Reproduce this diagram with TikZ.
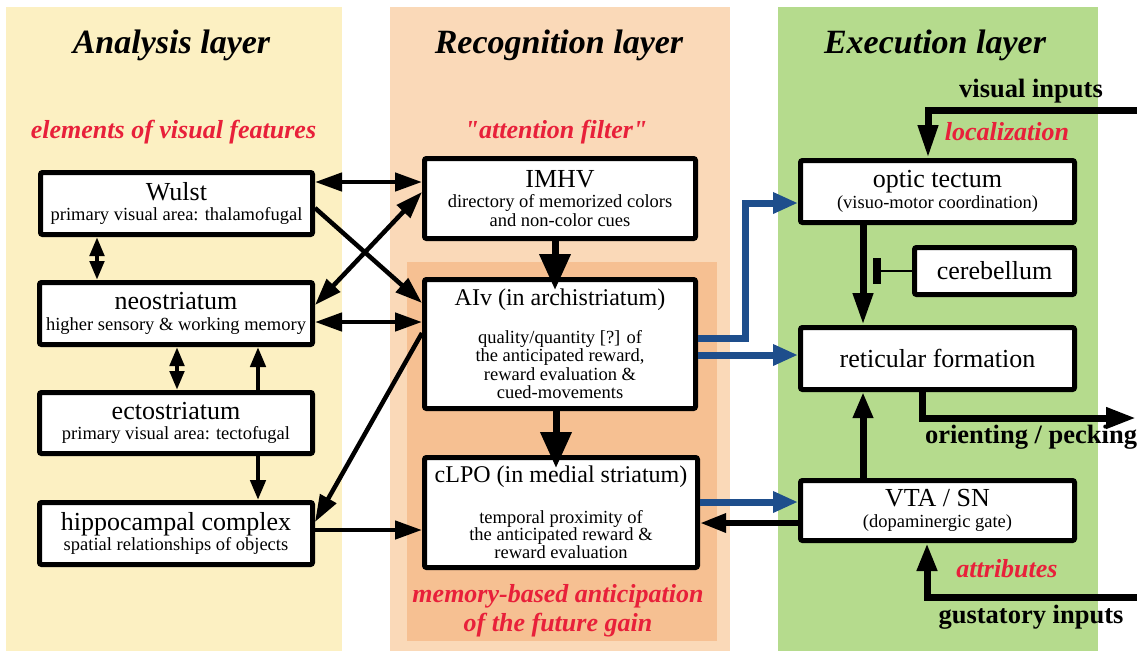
\documentclass[tikz,border=0pt]{standalone}
\usepackage{fontspec}
\setmainfont{Liberation Serif}
\usetikzlibrary{arrows.meta,calc}
\definecolor{ylw}{RGB}{252,240,194}
\definecolor{org}{RGB}{250,217,184}
\definecolor{orgdk}{RGB}{246,192,146}
\definecolor{grn}{RGB}{181,219,141}
\definecolor{redtxt}{RGB}{232,32,58}
\definecolor{bluearr}{RGB}{30,78,140}
\newcommand\bigt{\fontsize{26}{29}\selectfont}
\newcommand\midt{\fontsize{24}{27}\selectfont}
\begin{document}
\begin{tikzpicture}[x=1pt,y=-1pt,
  box/.style={draw=black, line width=5pt, fill=white, inner sep=1pt, align=center, rounded corners=2pt,
    font=\fontsize{18.5}{20.5}\selectfont},
  ttl/.style={anchor=base, font=\fontsize{34}{36}\selectfont\bfseries\itshape},
  redlab/.style={anchor=base, text=redtxt, font=\fontsize{26}{29}\selectfont\bfseries\itshape},
  lab/.style={anchor=base, font=\fontsize{26.5}{29}\selectfont\bfseries},
  conn/.style={line width=4.5pt, -{Triangle[length=27pt,width=18pt]}},
  dconn/.style={line width=4.5pt, {Triangle[length=27pt,width=18pt]}-{Triangle[length=27pt,width=18pt]}},
  vdbl/.style={line width=4.5pt, {Triangle[length=19pt,width=14pt]}-{Triangle[length=19pt,width=14pt]}},
  vconn/.style={line width=4.5pt, -{Triangle[length=20pt,width=15pt]}},
  bigarr/.style={line width=7pt, -{Triangle[length=36pt,width=30pt]}, shorten >=-13pt},
  blarr/.style={draw=bluearr, line width=7pt, -{Triangle[length=25pt,width=20pt]}},
  rconn/.style={line width=6pt, -{Triangle[length=26pt,width=18pt]}},
  rthick/.style={line width=7pt, -{Triangle[length=30pt,width=20pt]}}
]
\useasboundingbox (0,0) rectangle (1137,651);
\fill[white] (0,0) rectangle (1137,651);
% columns
\fill[ylw] (6,7) rectangle (342,651);
\fill[org] (390,7) rectangle (730,651);
\fill[orgdk] (407,262) rectangle (717,641);
\fill[grn] (778,7) rectangle (1098,651);

% titles and labels
\node[ttl] (t1) at (171.5,53) {Analysis layer};
\node[ttl] (t2) at (559,53) {Recognition layer};
\node[ttl] (t3) at (935,53) {Execution layer};
\node[redlab] (r1) at (173.5,138) {elements of visual features};
\node[redlab] (r2) at (556,138) {{\addfontfeatures{Ligatures=TeXOff}"attention filter"}};
\node[redlab] (r3) at (1007,140) {localization};
\node[redlab] (r4) at (1007,577) {attributes};
\node[redlab] (r5) at (558,602) {memory-based anticipation};
\node[redlab] (r6) at (558,631) {of the future gain};
\node[lab] (l1) at (1031,97) {visual inputs};
\node[lab] (l2) at (1031,443) {orienting / pecking};
\node[lab] (l3) at (1031,623) {gustatory inputs};

% boxes
\node[box, minimum width=272pt, minimum height=62pt] (wulst) at (176.5,203.5) {{\bigt Wulst}\\primary visual area: thalamofugal};
\node[box, minimum width=273pt, minimum height=62pt] (neo) at (176,313.5) {{\bigt neostriatum}\\higher sensory \& working memory};
\node[box, minimum width=273pt, minimum height=61pt] (ecto) at (176,423) {{\bigt ectostriatum}\\primary visual area: tectofugal};
\node[box, minimum width=273pt, minimum height=62pt] (hippo) at (176,533.5) {{\bigt hippocampal complex}\\spatial relationships of objects};
\node[box, minimum width=271pt, minimum height=80pt] (imhv) at (560,198.5) {{\bigt IMHV}\\directory of memorized colors\\[-2pt]and non-color cues};
\node[box, minimum width=271pt, minimum height=129pt] (aiv) at (560,344) {{\midt AIv (in archistriatum)}\\[17pt]quality/quantity [?] of\\[-2pt]the anticipated reward,\\[-2pt]reward evaluation \&\\[-2pt]cued-movements};
\node[box, minimum width=273pt, minimum height=110pt] (clpo) at (561,512.5) {{\midt cLPO (in medial striatum)}\\[20pt]temporal proximity of\\[-3pt]the anticipated reward \&\\[-3pt]reward evaluation};
\node[box, minimum width=274pt, minimum height=62pt] (optic) at (937.5,191.5) {{\bigt optic tectum}\\(visuo-motor coordination)};
\node[box, minimum width=160pt, minimum height=47pt] (cereb) at (994.5,271) {\bigt cerebellum};
\node[box, minimum width=274pt, minimum height=62pt] (retic) at (937.5,358.5) {\bigt reticular formation};
\node[box, minimum width=274pt, minimum height=60pt] (vta) at (937.5,510.5) {{\bigt VTA / SN}\\(dopaminergic gate)};

% analysis <-> recognition
\draw[dconn] ([yshift=21.5pt]wulst.east) -- ([yshift=16.5pt]imhv.west);
\draw[conn] ([yshift=-4.5pt]wulst.east) -- ([yshift=41pt]aiv.west);
\draw[dconn] ([yshift=8.5pt]neo.east) -- ([yshift=6.5pt]imhv.west);
\draw[dconn] ([yshift=-8.5pt]neo.east) -- ([yshift=22pt]aiv.west);
\draw[conn] ([yshift=11pt]aiv.west) -- ([yshift=11.5pt]hippo.east);
\draw[conn] ([yshift=3.5pt]hippo.east) -- ([yshift=-17.5pt]clpo.west);

% analysis internal
\draw[vdbl] ([xshift=-79.5pt]wulst.south) -- ([xshift=-79pt]neo.north);
\draw[vdbl] ([xshift=1pt]neo.south) -- ([xshift=1pt]ecto.north);
\draw[vconn] ([xshift=82pt]ecto.north) -- ([xshift=82pt]neo.south);
\draw[vconn] ([xshift=82pt]ecto.south) -- ([xshift=82pt]hippo.north);

% recognition internal
\draw[bigarr] ([xshift=-5pt]imhv.south) -- ([xshift=-5pt]aiv.north);
\draw[bigarr] ([xshift=-4pt]aiv.south) -- ([xshift=-5pt]clpo.north);

% recognition <-> execution
\draw[blarr] ([yshift=6pt]aiv.east) -- ++(47,0) |- ([yshift=-11.5pt]optic.west);
\draw[blarr] ([yshift=-11pt]aiv.east) -- ([yshift=-11pt]aiv.east -| retic.west);
\draw[blarr] ([yshift=10.5pt]clpo.east) -- ([yshift=10.5pt]clpo.east -| vta.west);
\draw[rconn] ([yshift=-10.5pt]clpo.east -| vta.west) -- ([yshift=-10.5pt]clpo.east);

% execution internal
\draw[rthick, -{Triangle[length=32pt,width=19pt]}] ([xshift=-74.5pt]optic.south) -- ([xshift=-74.5pt]retic.north);
\draw[line width=2pt, -{Rectangle[length=8pt,width=26pt]}] (cereb.west) -- ++(-39,0);
\draw[rthick, -{Triangle[length=26pt,width=19pt]}] ([xshift=-74.5pt]vta.north) -- ([xshift=-74.5pt]retic.south);
\coordinate (pk) at (1136,418);
\draw[rthick] ([xshift=-15.5pt]retic.south) |- (pk);
\coordinate (vin) at (1137,110);
\draw[rthick, -{Triangle[length=33pt,width=19pt]}] (vin) -| ([xshift=-9.5pt]optic.north);
\coordinate (gin) at (1137,597);
\draw[rthick, -{Triangle[length=28pt,width=19pt]}] (gin) -| ([xshift=-10.5pt]vta.south);
\end{tikzpicture}
\end{document}
